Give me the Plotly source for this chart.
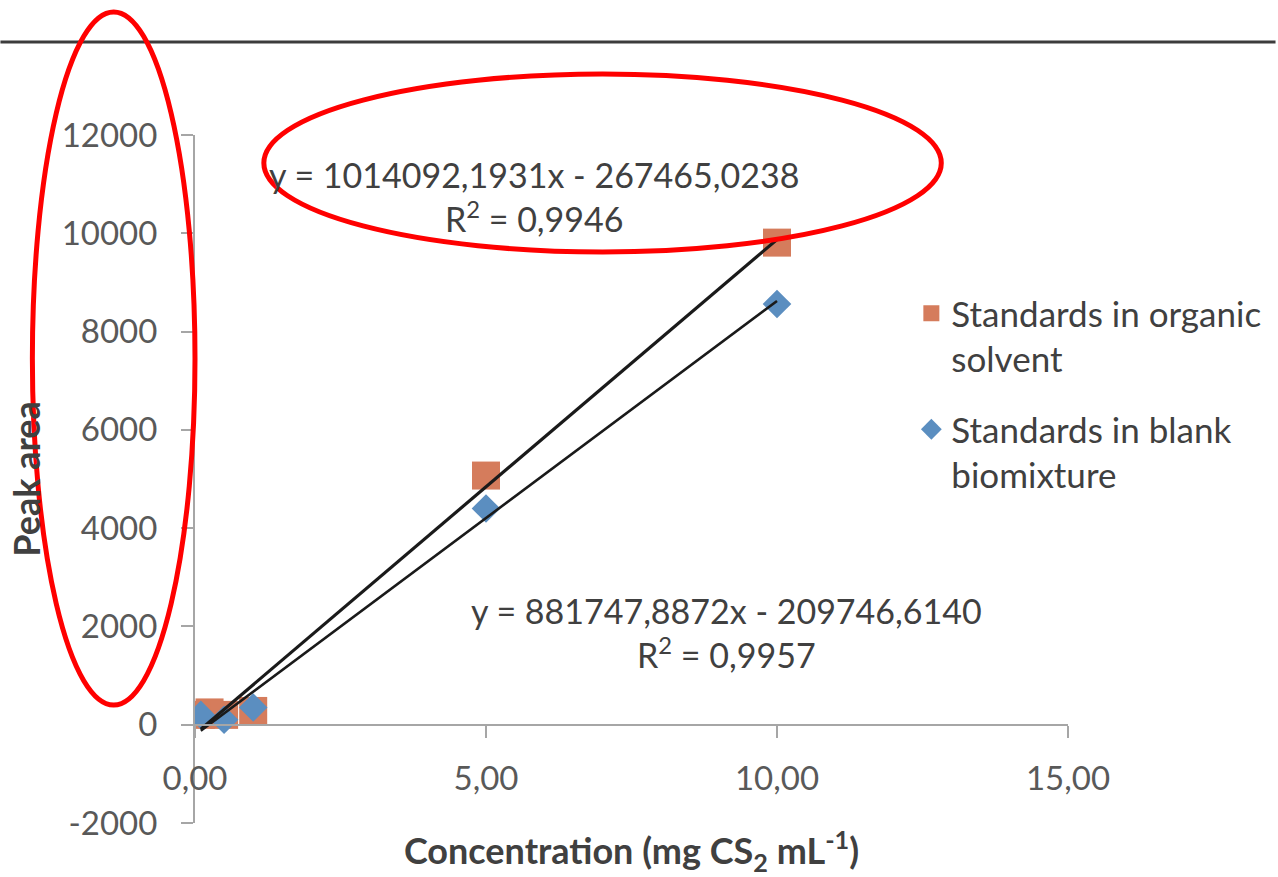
import numpy as np
import plotly.graph_objects as go

# ---------------- data ----------------
organic_x = [0.1, 0.25, 0.5, 1.0, 5.0, 10.0]
organic_y = [200, 250, 200, 280, 5070, 9810]
blank_x = [0.1, 0.5, 1.0, 5.0, 10.0]
blank_y = [200, 100, 350, 4400, 8560]

organic_name = "Standards in organic<br>solvent"
blank_name = "Standards in blank<br>biomixture"
organic_eq = "y = 1014092,1931x - 267465,0238<br>R<sup>2</sup> = 0,9946"
blank_eq = "y = 881747,8872x - 209746,6140<br>R<sup>2</sup> = 0,9957"

x_tickvals = [0, 5, 10, 15]
x_ticktext = ["0,00", "5,00", "10,00", "15,00"]
y_tickvals = [-2000, 0, 2000, 4000, 6000, 8000, 10000, 12000]
y_ticktext = ["-2000", "0", "2000", "4000", "6000", "8000", "10000", "12000"]

# ---------------- layout geometry ----------------
W, H = 1278, 877
L, R, T, B = 195, 208, 135, 54
PW, PH = W - L - R, H - T - B


def px_x(px):
    return (px - L) / PW


def px_y(py):
    return (H - B - py) / PH


FONT = "Lato, 'Open Sans', sans-serif"
ORANGE = "#d57c5c"
BLUE = "#5b8ec0"
AX = "#a6a6a6"

fig = go.Figure()

fig.add_trace(go.Scatter(
    x=organic_x, y=organic_y, mode="markers", name=organic_name,
    legendgroup="a",
    marker=dict(symbol="square", size=28, color=ORANGE, line=dict(width=0)),
))
fig.add_trace(go.Scatter(
    x=blank_x, y=blank_y, mode="markers", name=blank_name,
    legendgroup="b",
    marker=dict(symbol="diamond", size=22, color=BLUE, line=dict(width=0)),
))

# linear trendlines (least squares fit of each series)
for xs, ys, w in [(organic_x, organic_y, 3.2), (blank_x, blank_y, 2.6)]:
    m, c = np.polyfit(xs, ys, 1)
    xl = np.array([min(xs), max(xs)])
    fig.add_trace(go.Scatter(
        x=xl, y=m * xl + c, mode="lines", showlegend=False,
        line=dict(color="#1a1a1a", width=w), hoverinfo="skip",
    ))

fig.add_annotation(x=5.83, y=10750, xref="x", yref="y", text=organic_eq,
                   showarrow=False, font=dict(family=FONT, size=34, color="#404040"),
                   align="center")
fig.add_annotation(x=9.14, y=1870, xref="x", yref="y", text=blank_eq,
                   showarrow=False, font=dict(family=FONT, size=34, color="#404040"),
                   align="center")

shapes = [
    # top rule
    dict(type="line", xref="paper", yref="paper", x0=px_x(0), x1=px_x(W),
         y0=px_y(42), y1=px_y(42), line=dict(color="#3c3c3c", width=3)),
    # red ellipses
    dict(type="circle", xref="paper", yref="paper", x0=px_x(32), x1=px_x(195),
         y0=px_y(12), y1=px_y(705), line=dict(color="#ff0000", width=5)),
    dict(type="circle", xref="paper", yref="paper", x0=px_x(264), x1=px_x(943),
         y0=px_y(74), y1=px_y(252), line=dict(color="#ff0000", width=5)),
]

fig.update_layout(
    width=W, height=H,
    margin=dict(l=L, r=R, t=T, b=B),
    paper_bgcolor="white", plot_bgcolor="white",
    font=dict(family=FONT, size=33, color="#595959"),
    shapes=shapes,
    showlegend=True,
    legend=dict(x=px_x(913), y=px_y(284), xanchor="left", yanchor="top",
                font=dict(family=FONT, size=35, color="#404040"),
                itemwidth=30, valign="top", tracegroupgap=22,
                bgcolor="rgba(0,0,0,0)"),
    xaxis=dict(range=[0, 15], anchor="free", position=2000 / 14000,
               automargin=False,
               showgrid=False, zeroline=False, showline=True, linecolor=AX,
               linewidth=2, ticks="outside", ticklen=12, tickcolor=AX, tickwidth=2,
               tickvals=x_tickvals, ticktext=x_ticktext,
               ticklabelstandoff=13,
               tickfont=dict(family=FONT, size=33, color="#595959"),
               title=dict(text="<b>Concentration (mg CS<sub>2</sub> mL<sup>-1</sup>)</b>",
                          font=dict(family=FONT, size=36, color="#404040"),
                          standoff=47)),
    yaxis=dict(range=[-2000, 12000], showgrid=False, zeroline=False,
               automargin=False,
               showline=True, linecolor=AX, linewidth=2, ticks="outside",
               ticklen=12, tickcolor=AX, tickwidth=2,
               tickvals=y_tickvals, ticktext=y_ticktext,
               ticklabelstandoff=17,
               tickfont=dict(family=FONT, size=33, color="#595959"),
               title=dict(text="<b>Peak area</b>",
                          font=dict(family=FONT, size=36, color="#404040"),
                          standoff=10)),
)

fig.write_html("out.html")
